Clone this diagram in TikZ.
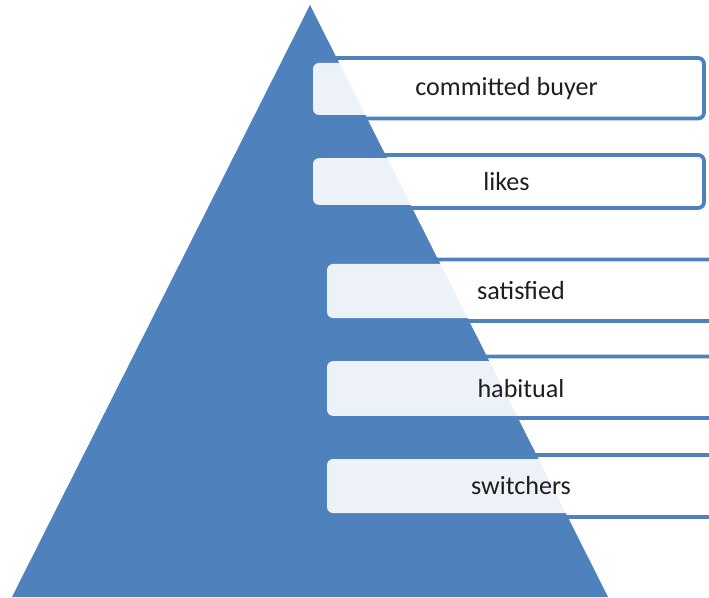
\documentclass[tikz,border=0pt]{standalone}
\usepackage{fontspec}
\setmainfont{Carlito}
\definecolor{pyrblue}{RGB}{79,129,189}
\definecolor{labelgray}{RGB}{30,30,30}
\tikzset{
  rimbox/.style={draw=pyrblue, line width=2.8pt, fill=white, rounded corners=4.5pt},
  levelbox/.style={fill=white, fill opacity=0.9, text opacity=1, text=labelgray,
    rounded corners=4.5pt, inner sep=0pt, font=\fontsize{19.6}{23}\selectfont}
}
\begin{document}
\begin{tikzpicture}[x=0.75pt,y=0.75pt,yscale=-1,xscale=1]
\useasboundingbox (0,0) rectangle (709,598);
\clip (0,0) rectangle (709,598);

%Shape: Rounded Rect (outlines behind the pyramid)
\draw [rimbox] (320,58) rectangle (704,118.5) ;
\draw [rimbox] (320,155) rectangle (704,208) ;
\draw [rimbox] (335,259.5) rectangle (740,321) ;
\draw [rimbox] (335,356.5) rectangle (740,418) ;
\draw [rimbox] (335,455) rectangle (740,517) ;

%Shape: Triangle
\fill [pyrblue] (310,5) -- (608,597) -- (12,597) -- cycle ;

% Text Node
\node [levelbox, minimum width=290.25pt, minimum height=39pt] (buyer) at (506.5,89) {committed buyer};
% Text Node
\node [levelbox, minimum width=290.25pt, minimum height=35pt] (likes) at (506.5,181.5) {likes};
% Text Node
\node [levelbox, minimum width=291pt, minimum height=40.5pt] (satisfied) at (521,291) {satisfied};
% Text Node
\node [levelbox, minimum width=291pt, minimum height=41pt] (habitual) at (521,388.5) {habitual};
% Text Node
\node [levelbox, minimum width=291pt, minimum height=40.5pt] (switchers) at (521,486) {switchers};

\end{tikzpicture}
\end{document}
